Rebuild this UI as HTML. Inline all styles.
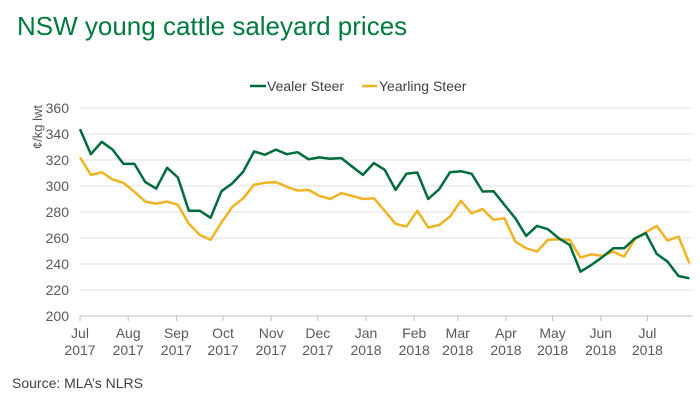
<!DOCTYPE html>
<html><head><meta charset="utf-8"><style>
html,body{margin:0;padding:0;background:#fff;}
svg{display:block;font-family:"Liberation Sans",Arial,sans-serif;}
</style></head><body>
<svg id="chart" width="700" height="401" viewBox="0 0 700 401">
<text x="17" y="35" font-size="26" fill="#007a3d">NSW young cattle saleyard prices</text>
<g>
<g><line x1="250" y1="86" x2="266" y2="86" stroke="#006b3c" stroke-width="2.5"/><text x="267" y="91" font-size="14" fill="#404040">Vealer Steer</text></g>
<g><line x1="362" y1="86" x2="377" y2="86" stroke="#f0b323" stroke-width="2.5"/><text x="379" y="91" font-size="14" fill="#404040">Yearling Steer</text></g>
</g>
<text transform="translate(42,127) rotate(-90)" text-anchor="middle" font-size="13" fill="#595959">¢/kg lwt</text>
<g id="grid"></g><g id="yticks"></g><g id="xticks"></g><g id="series"></g>
<text x="12" y="388" font-size="14" fill="#404040">Source: MLA’s NLRS</text>
</svg>
<script>
const yTicks=[200,220,240,260,280,300,320,340,360];
const monthLabels=["Jul","Aug","Sep","Oct","Nov","Dec","Jan","Feb","Mar","Apr","May","Jun","Jul"];
const yearLabels=["2017","2017","2017","2017","2017","2017","2018","2018","2018","2018","2018","2018","2018"];
const monthDays=[0,31,62,92,123,153,184,215,243,274,304,335,365];
const vealer=[343.8,324.5,334,328,317,317,303,298,314,306.5,281,281,275.5,296,302,311,326.5,324,328,324.5,326,320.5,322,321,321.5,315,308.5,317.6,312.5,297,309.4,310.4,290,297.5,310.6,311.4,309.4,295.8,296,285.5,275.2,261.6,269.3,266.8,259.8,254.7,234.1,239.3,245.2,252.1,252.1,259.8,263.7,247.8,241.8,230.8,229];
const yearling=[322,308.5,310.5,305,302.5,295.5,288,286.5,288,285.5,271,262.5,258.5,272,284,290.5,301,302.5,303,299.5,296.5,297,292.5,290,294.5,292.5,290,290.6,280.9,270.9,268.8,280.9,268,270,276.5,288.6,279,282.2,274,275.2,257.3,252.1,249.5,258.5,259,258.5,244.9,247.5,246.2,249.5,245.7,259.3,264.4,269.3,258,261.1,240.6];
const X0=80,PXD=1.5545,XR=692;
const xDay=d=>X0+d*PXD;
const xWeek=i=>xDay(i*7);
const yV=v=>316-(v-200)*(208/160);
const NS="http://www.w3.org/2000/svg";
function mk(t,a,p){const e=document.createElementNS(NS,t);for(const k in a)e.setAttribute(k,a[k]);p.appendChild(e);return e;}
const grid=document.getElementById('grid'),yt=document.getElementById('yticks'),xt=document.getElementById('xticks'),ser=document.getElementById('series');
yTicks.forEach(v=>{
 const l=mk('line',{x1:X0,x2:XR,y1:yV(v),y2:yV(v),stroke:v===200?'#bfbfbf':'#e0e0e0','stroke-width':1},grid);
 
 
 const t=mk('text',{x:69,y:yV(v)+5,'text-anchor':'end','font-size':14,fill:'#595959'},yt);
 t.textContent=v;
 
 
});
monthLabels.forEach((m,i)=>{
 const x=xDay(monthDays[i]);
 const tk=mk('line',{x1:x,x2:x,y1:316,y2:321,stroke:'#bfbfbf'},xt);
 
 
 const t=mk('text',{x:x,y:338,'text-anchor':'middle','font-size':14,fill:'#595959'},xt);
 t.textContent=m;
 
 
 const t2=mk('text',{x:x,y:355,'text-anchor':'middle','font-size':14,fill:'#595959'},xt);
 t2.textContent=yearLabels[i];
 
 
});
function line(arr,col,name){
 const p=mk('polyline',{points:arr.map((v,i)=>xWeek(i).toFixed(1)+','+yV(v).toFixed(1)).join(' '),fill:'none',stroke:col,'stroke-width':2.5,'stroke-linejoin':'round'},ser);
 
 
}
line(yearling,'#f0b323','yearling-steer-line');
line(vealer,'#006b3c','vealer-steer-line');
</script>
</body></html>
